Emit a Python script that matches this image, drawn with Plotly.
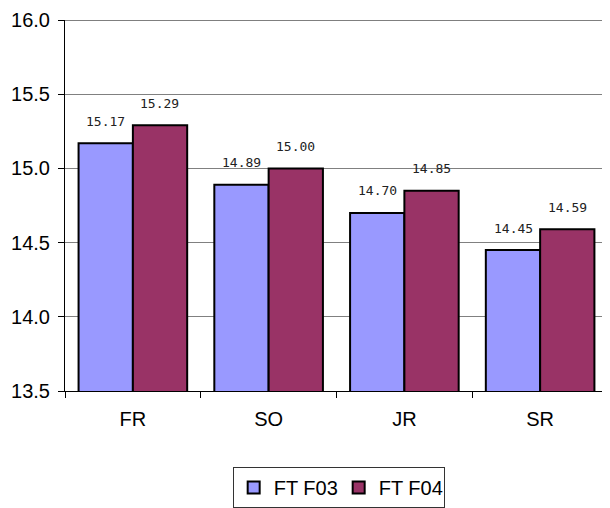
import plotly.graph_objects as go

categories = ["FR", "SO", "JR", "SR"]
ft_f03 = [15.17, 14.89, 14.70, 14.45]
ft_f04 = [15.29, 15.00, 14.85, 14.59]
y_ticks = [13.5, 14.0, 14.5, 15.0, 15.5, 16.0]
series_names = ["FT F03", "FT F04"]
series_colors = ["#9999FF", "#993366"]

fig = go.Figure()
for name, vals, col in zip(series_names, [ft_f03, ft_f04], series_colors):
    fig.add_trace(go.Bar(
        x=categories, y=vals, name=name,
        marker=dict(color=col, line=dict(color="black", width=2)),
    ))

# value labels above bars
annotations = []
for vals, shift in zip([ft_f03, ft_f04], [-27, 27]):
    for c, v in zip(categories, vals):
        annotations.append(dict(
            x=c, y=v, text=f"{v:.2f}", showarrow=False,
            xshift=shift, yshift=22, yanchor="middle",
            font=dict(family="DejaVu Sans Mono", size=13, color="#222222"),
        ))

# page body has an 8px margin, so the figure is sized to fill the rest
fig.update_layout(
    width=602, height=500,
    margin=dict(l=57, r=2, t=12, b=117, autoexpand=False),
    paper_bgcolor="white", plot_bgcolor="white",
    barmode="group", bargap=0.2, bargroupgap=0,
    font=dict(family="Liberation Sans, Arial", size=20, color="black"),
    showlegend=True,
    legend=dict(
        orientation="h", x=0.504, xanchor="center", y=-0.205, yanchor="top",
        bordercolor="#333333", borderwidth=1, bgcolor="white",
        font=dict(size=20), itemwidth=30, entrywidth=60,
    ),
    annotations=annotations,
)
fig.update_xaxes(
    type="category", tickson="boundaries", ticks="outside", ticklen=6,
    tickcolor="black", showline=True, linecolor="black", linewidth=1,
    showgrid=False, tickfont=dict(size=20), ticklabelstandoff=10,
)
fig.update_yaxes(
    range=[13.5, 16.0], tickvals=y_ticks, ticktext=[f"{t:.1f}" for t in y_ticks],
    ticks="outside", ticklen=6, tickcolor="black",
    showline=True, linecolor="black", linewidth=1,
    showgrid=True, gridcolor="#808080", gridwidth=1,
    zeroline=False, tickfont=dict(size=20), ticklabelstandoff=4,
)
fig.add_shape(type="line", xref="paper", yref="y", x0=0, x1=1, y0=16.0, y1=16.0,
              line=dict(color="black", width=1))

fig.write_html("out.html")
